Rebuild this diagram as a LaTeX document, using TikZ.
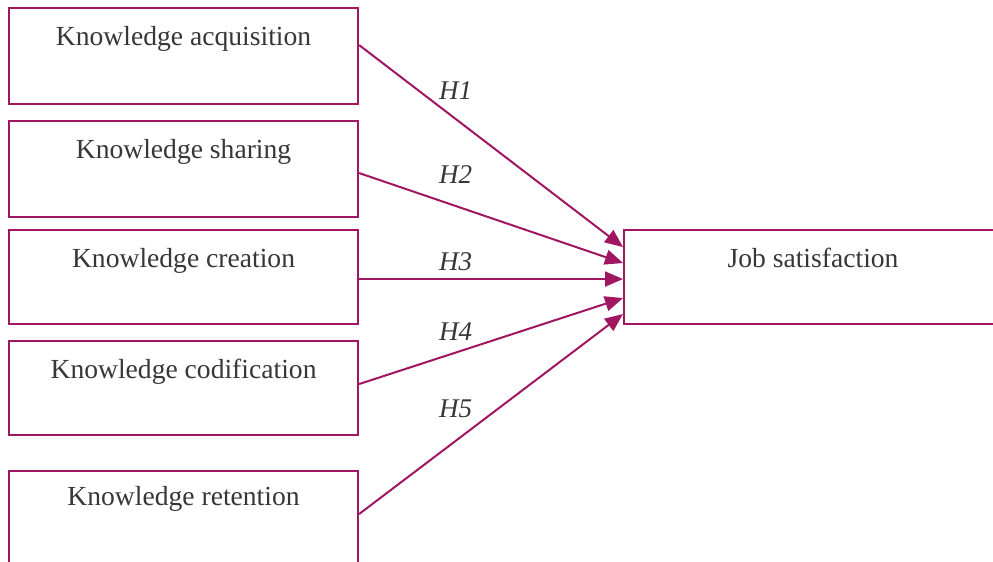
\documentclass[tikz,border=0pt]{standalone}
\usepackage{fontspec}
\setmainfont{Liberation Serif}
\usetikzlibrary{arrows.meta,positioning}
\definecolor{mag}{RGB}{160,22,96}
\definecolor{txtgray}{RGB}{55,55,55}
\begin{document}
\begin{tikzpicture}[x=1pt,y=-1pt,
  box/.style={draw=mag, line width=2.1pt, rectangle, inner sep=0pt, anchor=north west},
  lbl/.style={font=\fontsize{27.6}{30}\selectfont, text=txtgray, anchor=base, inner sep=0pt},
  hyp/.style={font=\fontsize{27}{30}\selectfont\itshape, text=txtgray, anchor=base west, inner sep=0pt},
  arr/.style={draw=mag, line width=2pt, -{Triangle[length=18pt,width=15pt]}}]
\useasboundingbox (0,0) rectangle (993,562);
\fill[white] (0,0) rectangle (993,562);
% boxes
\node[box, minimum width=349pt, minimum height=96pt] (b1) at (8,7) {};
\node[box, minimum width=349pt, minimum height=96pt] (b2) at (8,120) {};
\node[box, minimum width=349pt, minimum height=94pt] (b3) at (8,229) {};
\node[box, minimum width=349pt, minimum height=94pt] (b4) at (8,340) {};
\node[box, minimum width=349pt, minimum height=96pt] (b5) at (8,470) {};
\node[box, minimum width=378pt, minimum height=94pt] (js) at (623,229) {};
% texts
\node[lbl] (t1) at ([yshift=-38pt]b1.north) {Knowledge acquisition};
\node[lbl] (t2) at ([yshift=-38pt]b2.north) {Knowledge sharing};
\node[lbl] (t3) at ([yshift=-38pt]b3.north) {Knowledge creation};
\node[lbl] (t4) at ([yshift=-38pt]b4.north) {Knowledge codification};
\node[lbl] (t5) at ([yshift=-35pt]b5.north) {Knowledge retention};
\node[lbl] (tj) at ([yshift=-38pt]js.north) {Job satisfaction};
% arrows
\draw[arr] ([yshift=11pt]b1.east) -- ([yshift=30pt]js.west);
\draw[arr] ([yshift=-4pt]b2.east) -- ([yshift=14pt]js.west);
\draw[arr] ([yshift=-2pt]b3.east) -- ([yshift=-2pt]js.west);
\draw[arr] ([yshift=4pt]b4.east) -- ([yshift=-21pt]js.west);
\draw[arr] ([yshift=5pt]b5.east) -- ([yshift=-37pt]js.west);
% hypothesis labels
\node[hyp] (h1) at (439,99) {H1};
\node[hyp] (h2) at (439,183) {H2};
\node[hyp] (h3) at (439,270) {H3};
\node[hyp] (h4) at (439,340) {H4};
\node[hyp] (h5) at (439,417) {H5};
\end{tikzpicture}
\end{document}
